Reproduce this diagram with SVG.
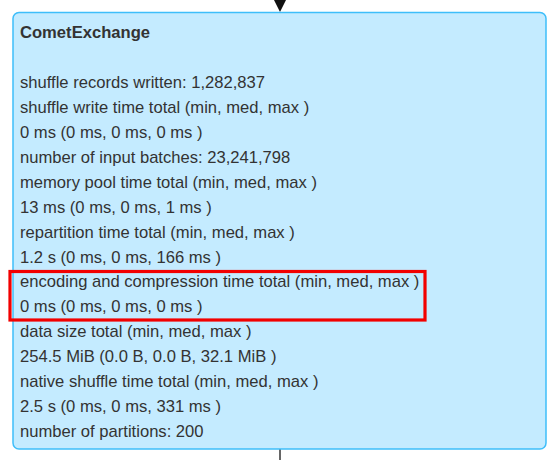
<svg xmlns="http://www.w3.org/2000/svg" width="559" height="460" viewBox="0 0 559 460">
<style>
.node{fill:#C4EBFF;stroke:#3EBEFA;stroke-width:1.5}
.t{font-family:"Liberation Sans",Arial,sans-serif;font-size:16.6px;fill:#333}
.b{font-weight:bold}
.edge{stroke:#333;stroke-width:1.5;fill:none}
.hl{fill:none;stroke:#F20000;stroke-width:3.2}
</style>
<g id="connectors">
<line class="edge" x1="280" y1="-10" x2="280" y2="1"/>
<path d="M274,0 L286,0 L280,12 z" fill="#111"/>
<line class="edge" x1="280" y1="449" x2="280" y2="460"/>
</g>
<g id="comet-exchange">
<rect class="node" x="13" y="12.5" width="533" height="436.5" rx="6"/>
<text class="t b" x="20" y="38">CometExchange</text>
<text class="t" x="20" y="88">shuffle records written: 1,282,837</text>
<text class="t" x="20" y="112.9">shuffle write time total (min, med, max )</text>
<text class="t" x="20" y="137.9">0 ms (0 ms, 0 ms, 0 ms )</text>
<text class="t" x="20" y="162.8">number of input batches: 23,241,798</text>
<text class="t" x="20" y="187.7">memory pool time total (min, med, max )</text>
<text class="t" x="20" y="212.6">13 ms (0 ms, 0 ms, 1 ms )</text>
<text class="t" x="20" y="237.6">repartition time total (min, med, max )</text>
<text class="t" x="20" y="262.5">1.2 s (0 ms, 0 ms, 166 ms )</text>
<text class="t" x="20" y="287.4">encoding and compression time total (min, med, max )</text>
<text class="t" x="20" y="312.4">0 ms (0 ms, 0 ms, 0 ms )</text>
<text class="t" x="20" y="337.3">data size total (min, med, max )</text>
<text class="t" x="20" y="362.2">254.5 MiB (0.0 B, 0.0 B, 32.1 MiB )</text>
<text class="t" x="20" y="387.1">native shuffle time total (min, med, max )</text>
<text class="t" x="20" y="412.1">2.5 s (0 ms, 0 ms, 331 ms )</text>
<text class="t" x="20" y="437">number of partitions: 200</text>
</g>
<rect class="hl" x="10" y="271.5" width="415" height="48.5"/>
</svg>
